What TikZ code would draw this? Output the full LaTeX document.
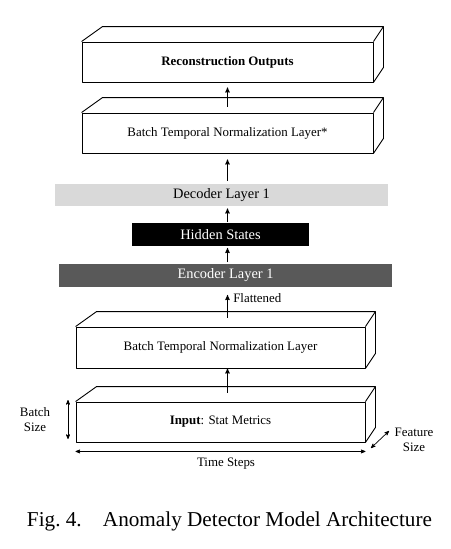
\documentclass[tikz,border=0pt]{standalone}
\usepackage{fontspec}
\setmainfont{Liberation Serif}
\usetikzlibrary{arrows,positioning,calc}

% side faces of a slab, drawn from the front face node
\newcommand{\slabfaces}[1]{%
  \draw[slab line] (#1.north west) -- ++(21,-15) -- ($(#1.north east)+(10,-15)$) -- (#1.north east)
        ($(#1.north east)+(10,-15)$) -- ($(#1.south east)+(10,-15)$) -- (#1.south east);
}

\begin{document}
\begin{tikzpicture}[
      x=1pt,y=-1pt,
      >=stealth',
      slab line/.style={line width=0.9pt,line join=round},
      slab/.style={
         rectangle,
         draw,
         slab line,
         fill=white,
         minimum width=289pt,
         minimum height=40pt,
         inner sep=0pt,
         font=\fontsize{12.9}{15}\selectfont
      },
      layer/.style={
         rectangle,
         minimum width=333pt,
         minimum height=22.5pt,
         inner sep=0pt,
         font=\fontsize{14.4}{16}\selectfont
      },
      tip/.style={->,line width=0.9pt},
      dim/.style={<->,line width=0.7pt},
      note/.style={font=\fontsize{12.9}{15}\selectfont,align=center}
    ]
    \useasboundingbox (0,0) rectangle (450,549);
    \coordinate (spine) at (227.5,0);

    % 3d slabs
    \node (out)  [slab, minimum width=291pt] at (227.5,62)  {\textbf{Reconstruction Outputs}};
    \node (btn2) [slab, minimum width=291pt] at (227.5,133) {Batch Temporal Normalization Layer*};
    \node (btn1) [slab, minimum height=41pt] at (220.5,347.5) {Batch Temporal Normalization Layer};
    \node (inp)  [slab] at (220.5,422) {\textbf{Input}: Stat Metrics};
    \slabfaces{out}
    \slabfaces{btn2}
    \slabfaces{btn1}
    \slabfaces{inp}

    % flat layers
    \node (dec) [layer, fill=gray!30] at (221.5,195) {Decoder Layer 1};
    \node (hid) [layer, fill=black, text=white, minimum width=177pt] at (220.5,234.5) {Hidden States};
    \node (enc) [layer, fill=black!65, text=white] at (225.5,275.5) {Encoder Layer 1};

    % data flow
    \draw[tip, shorten <=9pt, shorten >=8pt] (btn1.north -| spine) -- (enc.south -| spine)
      node[note, pos=0.72, right=2pt] (flat) {Flattened};
    \draw[tip, shorten <=9pt] (inp.north -| spine) -- (btn1.south -| spine);
    \draw[tip, shorten <=2pt, shorten >=2pt] (enc.north -| spine) -- (hid.south -| spine);
    \draw[tip, shorten <=1pt, shorten >=2pt] (hid.north -| spine) -- (dec.south -| spine);
    \draw[tip, shorten <=3pt, shorten >=6pt] (dec.north -| spine) -- (btn2.south -| spine);
    \draw[tip, shorten <=6pt, shorten >=5pt] (btn2.north -| spine) -- (out.south -| spine);

    % dimensions of the input
    \coordinate (bs top) at (68,400);
    \coordinate (bs bot) at (68,439);
    \draw[dim] (bs top) -- (bs bot);
    \node (bs) [note] at (35,420) {Batch\\Size};
    \coordinate (ts left) at ([yshift=-9pt]inp.south west);
    \coordinate (ts right) at ([yshift=-9pt]inp.south east);
    \draw[dim] (ts left) -- (ts right);
    \node (ts) [note] at (226,464) {Time Steps};
    \coordinate (fs near) at (371,448);
    \coordinate (fs far) at (389,431);
    \draw[dim] (fs near) -- (fs far);
    \node (fs) [note] at (414,440) {Feature\\Size};

    % caption
    \node (cap) [font=\fontsize{21.2}{25}\selectfont] at (229.5,521) {Fig.~4.\hspace{1em}Anomaly Detector Model Architecture};
\end{tikzpicture}
\end{document}
